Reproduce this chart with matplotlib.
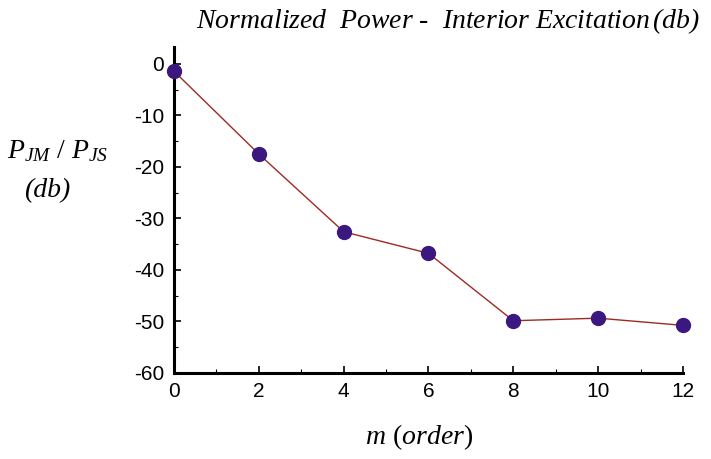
import matplotlib
matplotlib.use("Agg")
import matplotlib.pyplot as plt
import matplotlib.ticker as ticker

plt.rcParams['font.family'] = 'Liberation Sans'
plt.rcParams['axes.unicode_minus'] = False
plt.rcParams['mathtext.fontset'] = 'custom'
plt.rcParams['mathtext.rm'] = 'Liberation Serif'
plt.rcParams['mathtext.it'] = 'Liberation Serif:italic'

# data
order = [0, 2, 4, 6, 8, 10, 12]
power_db = [-1.4, -17.5, -32.6, -36.8, -49.9, -49.4, -50.8]

fig = plt.figure(figsize=(7.11, 4.59), dpi=100)
ax = fig.add_axes([0.2447, 0.188, 0.7159, 0.7096])

ax.plot(order, power_db, color='#9e2a22', lw=1.0, zorder=2)
ax.plot(order, power_db, 'o', color='#3b1880', markersize=10, zorder=3, clip_on=False)

ax.set_xlim(0, 12)
ax.set_ylim(-60, 3.3)
ax.xaxis.set_major_locator(ticker.MultipleLocator(2))
ax.xaxis.set_minor_locator(ticker.MultipleLocator(1))
ax.yaxis.set_major_locator(ticker.FixedLocator([0, -10, -20, -30, -40, -50, -60]))
ax.yaxis.set_minor_locator(ticker.FixedLocator([-5, -15, -25, -35, -45, -55]))

for s in ['top', 'right']:
    ax.spines[s].set_visible(False)
for s in ['left', 'bottom']:
    ax.spines[s].set_linewidth(2.2)

ax.tick_params(which='major', direction='in', length=5, width=1.2, labelsize=15, pad=7)
ax.tick_params(which='minor', direction='in', length=3, width=0.8)

fig.text(0.985, 0.955, 'Normalized  Power -  Interior Excitation$\\,$(db)',
         ha='right', va='center', fontsize=20, family='Liberation Serif', style='italic')

fig.text(0.081, 0.67, '$P_{JM}$ / $P_{JS}$', ha='center', va='center', fontsize=20,
         family='Liberation Serif')
fig.text(0.067, 0.585, '(db)', ha='center', va='center', fontsize=20,
         family='Liberation Serif', style='italic')

fig.text(0.59, 0.048, '$m$ $($$order$$)$', ha='center', va='center', fontsize=20)

fig.savefig('out.png', dpi=100)
